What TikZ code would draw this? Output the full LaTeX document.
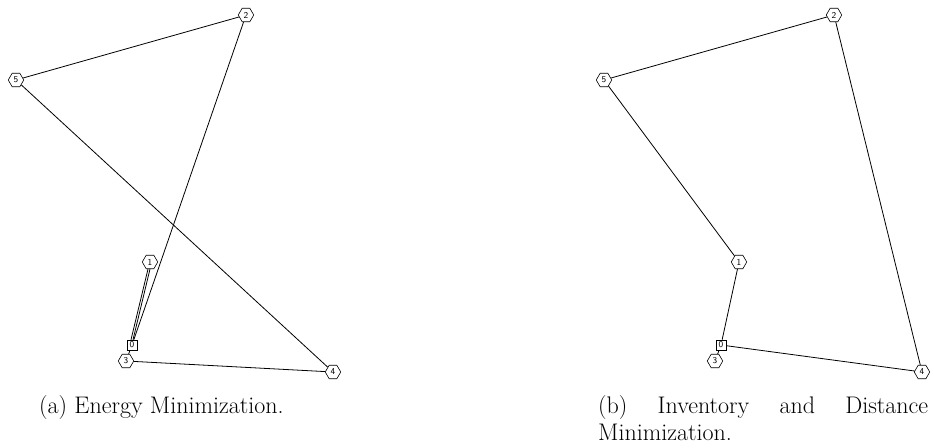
\documentclass[tikz,border=0pt]{standalone}
\usetikzlibrary{shapes.geometric}
\newcommand\mycapfont{\fontsize{24}{27}\selectfont\hyphenpenalty=10000\relax\exhyphenpenalty=10000\relax\hbadness=10000\relax}
\begin{document}
\begin{tikzpicture}[x=1pt,y=-1pt,
  hexnode/.style={regular polygon,regular polygon sides=6,draw,line width=0.6pt,fill=white,inner sep=0pt,minimum size=15.5pt,font=\sffamily\fontsize{9}{9}\selectfont},
  depot/.style={rectangle,draw,line width=0.6pt,fill=white,inner sep=0pt,minimum size=10pt,font=\sffamily\fontsize{9}{9}\selectfont},
  edge/.style={line width=0.8pt},
  captext/.style={font=\mycapfont,inner sep=0pt,anchor=base west}]
\useasboundingbox (0,0) rectangle (934,447);
% left
\node[hexnode] (l2) at (246,15) {2};
\node[hexnode] (l5) at (16,80) {5};
\node[hexnode] (l1) at (150,262) {1};
\node[hexnode] (l3) at (126,361) {3};
\node[hexnode] (l4) at (333,372) {4};
\node[depot] (l0) at (132,345) {0};
\draw[edge] ([xshift=1pt]l0.north) -- (l1.south);
\draw[edge] ([xshift=-1pt]l0.north) -- ([xshift=-2pt]l1.south);
\draw[edge] (l0) -- (l2);
\draw[edge] (l2) -- (l5);
\draw[edge] (l5) -- (l4);
\draw[edge] (l4) -- (l3);
\draw[edge] (l3) -- (l0);
% right
\node[hexnode] (r2) at (834,15) {2};
\node[hexnode] (r5) at (604,80) {5};
\node[hexnode] (r1) at (739,262) {1};
\node[hexnode] (r3) at (715,361) {3};
\node[hexnode] (r4) at (922,372) {4};
\node[depot] (r0) at (721,345) {0};
\draw[edge] (r2) -- (r5);
\draw[edge] (r5) -- (r1);
\draw[edge] (r1) -- (r0);
\draw[edge] (r0) -- (r3);
\draw[edge] (r0) -- (r4);
\draw[edge] (r4) -- (r2);
% captions
\node[captext] (capa) at (39,413) {(a) Energy Minimization.};
\node[captext,text width=330pt,align=justify] (capb) at (598,413) {(b) Inventory and Distance Minimization.};
\end{tikzpicture}
\end{document}
